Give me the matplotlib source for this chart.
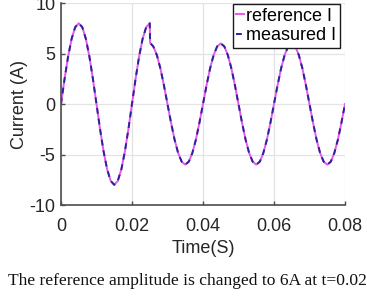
import matplotlib
matplotlib.use("Agg")
import matplotlib.pyplot as plt

# samples (time in ms, current in A)
time_ms = [0, 1, 2, 3, 4, 5, 6, 7, 8, 9,
           10, 11, 12, 13, 14, 15, 16, 17, 18, 19,
           20, 21, 22, 23, 24, 25, 25.1, 26, 27, 28, 29,
           30, 31, 32, 33, 34, 35, 36, 37, 38, 39,
           40, 41, 42, 43, 44, 45, 46, 47, 48, 49,
           50, 51, 52, 53, 54, 55, 56, 57, 58, 59,
           60, 61, 62, 63, 64, 65, 66, 67, 68, 69,
           70, 71, 72, 73, 74, 75, 76, 77, 78, 79, 80]
ref_current = [0, 2.47, 4.70, 6.47, 7.61, 8.00, 7.61, 6.47, 4.70, 2.47,
               0, -2.47, -4.70, -6.47, -7.61, -8.00, -7.61, -6.47, -4.70, -2.47,
               0, 2.47, 4.70, 6.47, 7.61, 8.00, 6.05, 5.71, 4.85, 3.53, 1.85,
               0, -1.85, -3.53, -4.85, -5.71, -6.00, -5.71, -4.85, -3.53, -1.85,
               0, 1.85, 3.53, 4.85, 5.71, 6.00, 5.71, 4.85, 3.53, 1.85,
               0, -1.85, -3.53, -4.85, -5.71, -6.00, -5.71, -4.85, -3.53, -1.85,
               0, 1.85, 3.53, 4.85, 5.71, 6.00, 5.71, 4.85, 3.53, 1.85,
               0, -1.85, -3.53, -4.85, -5.71, -6.00, -5.71, -4.85, -3.53, -1.85, 0]
meas_current = list(ref_current)

x_ticks = [0, 0.02, 0.04, 0.06, 0.08]
x_tick_labels = ["0", "0.02", "0.04", "0.06", "0.08"]
y_ticks = [-10, -5, 0, 5, 10]

caption = "The reference amplitude is changed to 6A at t=0.025s"

plt.rcParams["font.family"] = ["Liberation Sans", "DejaVu Sans"]
plt.rcParams["axes.unicode_minus"] = False

fig = plt.figure(figsize=(3.67, 3.06), dpi=100)
ax = fig.add_axes([0.1662, 0.330, 0.7738, 0.660])

t_s = [v / 1000.0 for v in time_ms]
ax.plot(t_s, ref_current, color="#ea55ea", linewidth=1.4, label="reference I")
ax.plot(t_s, meas_current, color="#25259c", linewidth=1.4,
        linestyle=(0, (3, 2.5)), label="measured I")

ax.set_xlim(0, 0.08)
ax.set_ylim(-10, 10)
ax.set_xticks(x_ticks)
ax.set_xticklabels(x_tick_labels)
ax.set_yticks(y_ticks)

for side in ["top", "right"]:
    ax.spines[side].set_visible(False)
for side in ["left", "bottom"]:
    ax.spines[side].set_color("#4d4d4d")
    ax.spines[side].set_linewidth(1.2)

ax.tick_params(direction="in", length=3, width=1, color="#4d4d4d",
               labelsize=13, labelcolor="#262626", pad=4)
ax.tick_params(axis="x", pad=9)
ax.grid(True, color="#e3e3e3", linewidth=0.9)
ax.set_axisbelow(True)

ax.set_xlabel("Time(S)", fontsize=13, color="#262626")
ax.set_ylabel("Current (A)", fontsize=13, color="#262626")
ax.xaxis.set_label_coords(0.5, -0.175)
ax.yaxis.set_label_coords(-0.115, 0.5)

leg = ax.legend(loc="upper right", bbox_to_anchor=(0.983, 0.995),
                borderaxespad=0, fontsize=13, handlelength=0.4,
                handletextpad=0.15, borderpad=0.2, labelspacing=0.15,
                fancybox=False, framealpha=1)
leg.get_frame().set_edgecolor("#1a1a1a")
leg.get_frame().set_linewidth(1.0)

fig.text(8 / 367, 21 / 306, caption, fontsize=12.6,
         family="Liberation Serif", va="baseline", ha="left", color="#111111")

fig.savefig("out.png", dpi=100)
